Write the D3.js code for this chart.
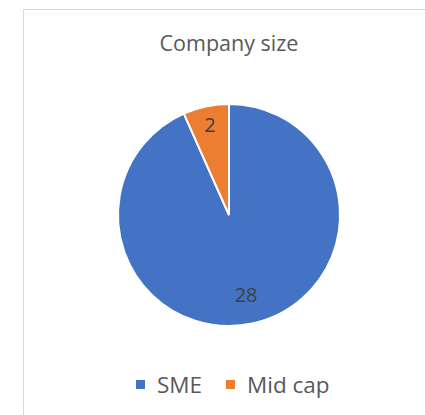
<!DOCTYPE html>
<html>
<head>
<meta charset="utf-8">
<script src="https://cdn.jsdelivr.net/npm/d3@7"></script>
<style>
  body { margin: 0; background: #fff; }
  text { font-family: "Open Sans", "DejaVu Sans", sans-serif; }
</style>
</head>
<body>
<div id="chart"></div>
<script>
// chart data
var categories = ["SME", "Mid cap"];
var values = [28, 2];
var colors = ["#4472C4", "#ED7D31"];
var title = "Company size";

var width = 425, height = 415;
var cx = 229, cy = 215, radius = 111;

var svg = d3.select("#chart").append("svg")
    .attr("width", width)
    .attr("height", height);

// chart area border
svg.append("rect")
    .attr("x", 23.5)
    .attr("y", 9.5)
    .attr("width", 420)
    .attr("height", 420)
    .style("fill", "#fff")
    .style("stroke", "#d9d9d9")
    .style("stroke-width", 1);

// title
svg.append("text")
    .attr("x", 229)
    .attr("y", 51)
    .attr("text-anchor", "middle")
    .style("font-size", "21.5px")
    .style("fill", "#595959")
    .text(title);

var data = categories.map(function(c, i) { return {name: c, value: values[i], color: colors[i]}; });

var pie = d3.pie()
    .sort(null)
    .value(function(d) { return d.value; });

var arc = d3.arc()
    .innerRadius(0)
    .outerRadius(radius);

var g = svg.append("g")
    .attr("transform", "translate(" + cx + "," + cy + ")");

var arcs = pie(data);

g.selectAll(".slice")
    .data(arcs)
  .enter().append("path")
    .attr("class", "slice")
    .attr("d", arc)
    .style("fill", function(d) { return d.data.color; })
    .style("stroke", "#fff")
    .style("stroke-width", 2);

// data labels (excel "best fit" puts them at slightly different depths)
var labelDepth = [0.74, 0.83];

g.selectAll(".label")
    .data(arcs)
  .enter().append("text")
    .attr("class", "label")
    .attr("transform", function(d, i) {
      var r = radius * labelDepth[i];
      var c = d3.arc().innerRadius(r).outerRadius(r).centroid(d);
      return "translate(" + c + ")";
    })
    .attr("dy", "0.35em")
    .attr("text-anchor", "middle")
    .style("font-size", "20px")
    .style("fill", "#404040")
    .text(function(d) { return d.data.value; });

// legend
var legendX = [136, 226];
var legend = svg.selectAll(".legend")
    .data(data)
  .enter().append("g")
    .attr("class", "legend")
    .attr("transform", function(d, i) { return "translate(" + legendX[i] + ",380)"; });

legend.append("rect")
    .attr("width", 9)
    .attr("height", 9)
    .style("fill", function(d) { return d.color; });

legend.append("text")
    .attr("x", 21)
    .attr("y", 12.5)
    .style("font-size", "22.5px")
    .style("fill", "#595959")
    .text(function(d) { return d.name; });
</script>
</body>
</html>
